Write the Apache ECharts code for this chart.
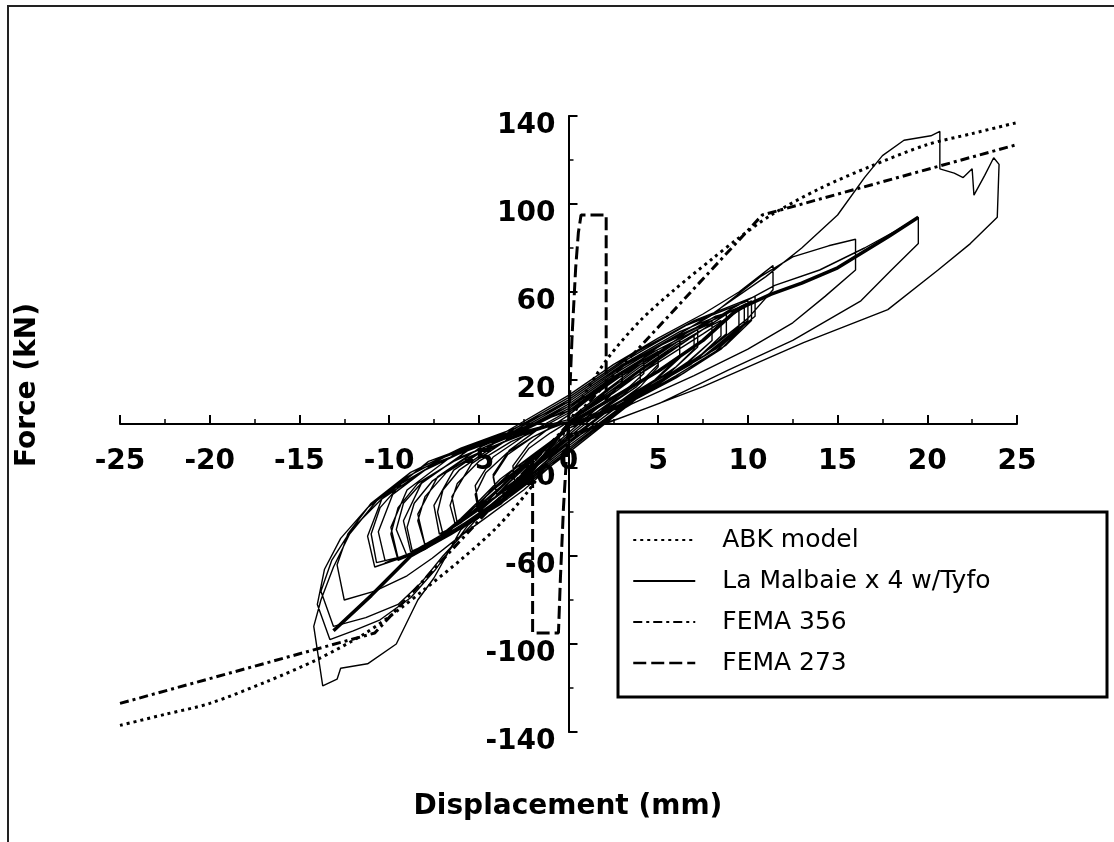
<!DOCTYPE html>
<html>
<head>
<meta charset="utf-8">
<title>Force vs Displacement</title>
<script src="https://cdn.jsdelivr.net/npm/echarts@6/dist/echarts.min.js"></script>
<style>
  html, body { margin: 0; padding: 0; background: #fff; }
  #chart { width: 1114px; height: 842px; }
</style>
</head>
<body>
<div id="chart"></div>
<script>
// axis ticks
const xTicks = [-25, -20, -15, -10, -5, 0, 5, 10, 15, 20, 25];
const yTicks = [-140, -100, -60, -20, 20, 60, 100, 140];

// ABK model (dotted)
const abkX = [-25, -22.5, -20, -16.8, -14, -11.3, -9.4, -8, -5.9, -4, -2.2, -1, 0, 1, 2.2, 4, 5.9, 8, 9.4, 11.3, 14, 16.8, 20, 22.5, 25];
const abkY = [-137, -132, -127, -117, -107, -95, -84, -75, -61, -47, -30, -15, 0, 15, 30, 47, 61, 75, 84, 95, 107, 117, 127, 132, 137];

// FEMA 356 (dash-dot)
const fema356X = [-25, -10.8, 0, 10.8, 25];
const fema356Y = [-127, -95, 0, 95, 127];

// FEMA 273 (dashed)
const fema273X = [-2.0, -2.0, -0.56, -0.45, -0.28, 0, 0.2, 0.4, 0.55, 0.7, 2.1, 2.1];
const fema273Y = [-15, -95, -95, -70, -38, 0, 40, 71, 87, 95, 95, 10];

// La Malbaie x 4 w/Tyfo - test cycles [disp, force]
// early cycles, pinched close to the origin
const early1 = [[0, 0], [1, 7], [2, 14], [3, 21], [2.9, 18], [2, 10], [1, 4], [0, -1], [-1, -9], [-2, -18], [-3, -26], [-3.1, -21], [-2.2, -11], [-1, -4], [0, 1]];
const early2 = [[0, 0], [1.2, 8], [2.5, 16], [4, 24], [4, 20], [3, 13], [1.5, 5], [0, -1], [-1.3, -11], [-2.7, -22], [-4, -32], [-4.2, -24], [-3.4, -14], [-2, -6], [-0.8, -1], [0, 1]];
const early3 = [[0, 1], [1.5, 10], [3, 19], [4.2, 26], [5, 30], [5, 26], [4, 17], [2.5, 8], [1, 2], [0, -2], [-1.2, -11], [-2.5, -20], [-3.5, -28], [-4.3, -35], [-5, -40], [-5.2, -32], [-4.6, -22], [-3.4, -13], [-2, -6], [-1, -2], [0, 1]];
const early4 = [[0, 1], [1.8, 12], [3.8, 23], [5.2, 31], [6.2, 36], [6.2, 30], [5, 21], [3, 11], [1.2, 3], [0, -1], [-1.5, -12], [-3, -23], [-4.5, -35], [-5.6, -42], [-6.3, -46], [-6.6, -37], [-6.2, -27], [-5, -17], [-3.2, -8], [-1.5, -2], [0, 1]];
const early5 = [[0, 1], [2, 12], [4, 24], [5.8, 34], [7, 40], [7, 34], [6, 26], [4, 15], [2, 6], [0, -2], [-1.6, -12], [-3.1, -21], [-4.3, -30], [-5.3, -40], [-6, -45], [-7, -50], [-7.3, -40], [-7, -30], [-6.1, -21], [-4.5, -12], [-2.8, -5], [-1.2, -1], [0, 1]];
const early6 = [[0, 1], [2, 14], [4, 26], [6, 37], [7.2, 43], [8, 46], [8, 38], [6.8, 29], [4.6, 17], [2.2, 6], [0, -2], [-1.8, -15], [-3.6, -27], [-5, -38], [-6.4, -47], [-8, -55], [-8.4, -44], [-8, -33], [-6.8, -22], [-4.8, -12], [-2.6, -5], [-1, -1], [0, 1]];
const early7 = [[0, 1], [2, 13], [4, 25], [6, 36], [7.5, 43], [8.5, 47], [8.5, 40], [7.2, 30], [5, 18], [2.5, 7], [0, -2], [-2, -14], [-3.8, -25], [-5, -35], [-6, -43], [-7.2, -51], [-8.7, -58], [-9, -47], [-8.6, -36], [-7.6, -26], [-5.8, -16], [-3.6, -8], [-1.6, -2], [0, 1]];
const early8 = [[0, 2], [2.2, 16], [4.5, 30], [6.5, 41], [8.2, 49], [9.5, 52], [9.5, 43], [8.2, 33], [6, 22], [3.4, 10], [0.8, 1], [0, -2], [-2, -16], [-4, -30], [-5.8, -43], [-7.2, -52], [-9, -60], [-9.6, -48], [-9.2, -36], [-8, -25], [-6, -15], [-3.6, -7], [-1.4, -1], [0, 1]];
const early9 = [[0, 1], [2.5, 15], [5, 28], [7.5, 41], [9, 49], [9.8, 53], [9.8, 45], [8.5, 34], [6, 21], [3, 8], [0, -2], [-2, -15], [-4, -28], [-5.5, -40], [-6.8, -50], [-8, -57], [-9.5, -62], [-9.9, -50], [-9.5, -38], [-8.4, -27], [-6.4, -17], [-4, -8], [-1.8, -2], [0, 1]];
const early10 = [[0, 1], [2.5, 14], [5, 29], [7.5, 43], [9, 51], [10.2, 56], [10.2, 47], [8.8, 36], [6.4, 23], [3.2, 9], [0, -2], [-2.2, -17], [-4.2, -30], [-5.8, -42], [-7.2, -52], [-8.6, -59], [-10.7, -63], [-11, -50], [-10.5, -38], [-9.3, -27], [-7.2, -17], [-4.6, -9], [-2, -3], [0, 1]];

// later cycles, wider at the origin
const cycle1 = [[0, 4], [1, 11], [2, 18], [3, 24], [3, 19], [2, 10], [1, 3], [0, -4], [-1, -11], [-2, -19], [-3, -26], [-3.1, -19], [-2.2, -9], [-1.1, -2], [0, 4]];
const cycle2 = [[0, 4], [1.4, 13], [2.8, 21], [4.2, 29], [4.2, 23], [3, 14], [1.5, 5], [0, -5], [-1.3, -14], [-2.7, -24], [-4, -32], [-4.2, -23], [-3.3, -12], [-1.8, -3], [0, 5]];
const cycle3 = [[0, 5], [1.6, 15], [3.3, 25], [5, 33], [5, 27], [3.8, 17], [2, 7], [0, -6], [-1.6, -17], [-3.3, -29], [-5, -38], [-5.2, -28], [-4.2, -15], [-2.4, -5], [0, 6]];
const cycle4 = [[0, 6], [2, 18], [4.2, 29], [6.2, 38], [6.2, 31], [4.8, 20], [2.6, 9], [0, -7], [-2, -20], [-4.2, -34], [-6.2, -45], [-6.5, -33], [-5.4, -18], [-3.2, -6], [0, 7]];
const cycle5 = [[0, 7], [2.4, 21], [4.8, 33], [7.2, 43], [7.2, 35], [5.6, 23], [3, 11], [0, -8], [-2.4, -23], [-4.8, -38], [-6.2, -46], [-7.2, -50], [-7.5, -37], [-6.4, -21], [-4, -8], [-1.8, 0], [0, 8]];
const cycle6 = [[0, 8], [2.6, 23], [5.2, 36], [8, 47], [8, 38], [6.2, 25], [3.4, 12], [0, -9], [-2.6, -26], [-5.2, -42], [-6.8, -50], [-8, -55], [-8.4, -41], [-7.3, -24], [-4.8, -10], [-2.2, -1], [0, 9]];
const cycle7 = [[0, 9], [2.8, 25], [5.8, 39], [8.8, 50], [8.8, 41], [6.8, 27], [3.8, 13], [0, -10], [-2.8, -28], [-5.8, -45], [-7.4, -53], [-8.8, -58], [-9.2, -44], [-8.2, -27], [-5.6, -12], [-2.6, -2], [0, 10]];
const cycle8 = [[0, 10], [3, 27], [6.2, 42], [9.5, 53], [9.5, 44], [7.4, 30], [4.2, 15], [0, -11], [-3, -30], [-6, -47], [-8, -56], [-9.5, -61], [-9.9, -47], [-9, -30], [-6.4, -14], [-3, -3], [0, 11]];
const cycle9 = [[0, 11], [3.2, 29], [6.6, 45], [10, 56], [10, 47], [7.8, 32], [4.4, 16], [0, -12], [-3.2, -32], [-6.4, -49], [-8.6, -58], [-10.2, -63], [-10.6, -49], [-9.8, -32], [-7.2, -16], [-3.4, -4], [0, 12]];
const cycle10 = [[0, 12], [3.4, 31], [7, 47], [10.4, 58], [10.4, 49], [8.2, 34], [4.8, 18], [0, -13], [-3.4, -34], [-6.8, -51], [-9, -60], [-10.8, -65], [-11.2, -51], [-10.4, -34], [-7.8, -17], [-3.8, -5], [0, 13]];
const cycle11 = [[0, 13], [2.5, 27], [5, 39], [7.5, 50], [9.5, 60], [11.4, 72], [11.4, 61], [10, 48], [8, 35], [5.5, 21], [2.8, 6], [0, -12], [-2.5, -30], [-4.5, -42], [-6.2, -52], [-7.6, -61], [-9, -69], [-10.8, -76], [-12.5, -80], [-12.9, -64], [-12.3, -50], [-11, -36], [-8.8, -22], [-6, -11], [-3, -2], [0, 10]];
const cycle12 = [[0, 10], [2.5, 24], [5.1, 36], [7.9, 49], [10.7, 67], [12.5, 76], [14.5, 81], [16, 84], [16, 70], [14.3, 58], [12.5, 46], [10, 34], [7, 22], [3.5, 9], [0, -8], [-2.8, -28], [-5.2, -44], [-7, -60], [-8.2, -72], [-9.5, -82], [-11.3, -88], [-13.1, -92], [-13.8, -76], [-13.2, -62], [-12.1, -48], [-10.4, -34], [-8, -21], [-5.2, -10], [-2.5, -2], [0, 8]];
const cycle13 = [[0, 8], [3, 22], [6, 37], [9, 52], [11.5, 63], [14, 70], [16.5, 80], [18.3, 88], [19.5, 94], [19.5, 82], [18, 70], [16.3, 56], [12.5, 38], [8.9, 24.5], [5.1, 9.5], [2, 0], [0, -6], [-3, -28], [-5.6, -46], [-7.4, -66], [-8.8, -79], [-10.5, -89], [-12, -94], [-13.3, -98], [-14, -82], [-13.6, -66], [-12.7, -52], [-11.2, -38], [-9, -24], [-6.2, -12], [-3, -3], [0, 6]];
const cycle14 = [[0, 6], [2.5, 20], [5, 35], [8, 50], [11, 67], [13, 80], [15, 95], [16.5, 112], [17.5, 122], [18.7, 129], [20.2, 131], [20.7, 133], [20.7, 116], [21.5, 114], [22, 112], [22.5, 116], [22.6, 104], [23.2, 113], [23.7, 121], [24, 118], [23.9, 94], [22.4, 82], [20.6, 70], [17.8, 52], [13.1, 37], [7.5, 17], [3, 3], [0, -5], [-3.2, -29], [-6, -48], [-7.5, -70], [-8.4, -80], [-9.6, -100], [-11.2, -109], [-12.7, -111], [-12.9, -116], [-13.7, -119], [-14.2, -92], [-13.8, -80], [-13.1, -65], [-12.2, -50], [-10.7, -35], [-8.4, -21], [-5.6, -12], [-2.8, -4], [0, 2]];

// heavy backbone traced through the repeated cycles
const backboneX = [-13.1, -11, -8.8, -6.6, -5.6, -3.8, -1.9, 0, 2.5, 5, 7.5, 9.4, 11.3, 13, 15, 17.8, 19.5];
const backboneY = [-94, -78, -60, -50, -45, -36, -20, 0, 12, 24, 38, 52, 59, 64, 71, 85, 94];

const zip = (xs, ys) => xs.map((x, i) => [x, ys[i]]);
const hysteresis = [].concat(
  early1, early2, early3, early4, early5, early6, early7, early8, early9, early10,
  cycle1, cycle2, cycle3, cycle4, cycle5, cycle6, cycle7,
  cycle8, cycle9, cycle10, cycle11, cycle12, cycle13, cycle14
);

const chart = echarts.init(document.getElementById('chart'), null, { renderer: 'canvas' });

const tickFont = { fontFamily: 'DejaVu Sans', fontWeight: 'bold', fontSize: 28, color: '#000' };

// grid is 897 x 616 px; axes are pushed onto the origin with offset
const option = {
  animation: false,
  backgroundColor: '#fff',
  grid: { left: 120, right: 97, top: 116, bottom: 110 },
  xAxis: {
    type: 'value',
    min: xTicks[0],
    max: xTicks[xTicks.length - 1],
    interval: xTicks[1] - xTicks[0],
    offset: -308,
    axisLine: { onZero: false, lineStyle: { color: '#000', width: 2 } },
    axisTick: { inside: true, length: 9, lineStyle: { color: '#000', width: 2 } },
    minorTick: { show: true, splitNumber: 2, length: 5, lineStyle: { color: '#000', width: 1.5 } },
    splitLine: { show: false },
    axisLabel: Object.assign({ margin: 24, showMinLabel: true, showMaxLabel: true }, tickFont)
  },
  yAxis: {
    type: 'value',
    min: yTicks[0],
    max: yTicks[yTicks.length - 1],
    interval: yTicks[1] - yTicks[0],
    offset: -448.5,
    axisLine: { onZero: false, lineStyle: { color: '#000', width: 2 } },
    axisTick: { inside: true, length: 9, lineStyle: { color: '#000', width: 2 } },
    minorTick: { show: true, splitNumber: 2, length: 5, lineStyle: { color: '#000', width: 1.5 } },
    splitLine: { show: false },
    axisLabel: Object.assign({ margin: 13, verticalAlign: 'top', lineHeight: 20, showMinLabel: true, showMaxLabel: true }, tickFont)
  },
  legend: {
    orient: 'vertical',
    left: 632,
    top: 527,
    padding: 0,
    itemWidth: 62,
    itemHeight: 14,
    itemGap: 15,
    itemStyle: { opacity: 0 },
    textStyle: { fontFamily: 'DejaVu Sans', fontSize: 25, lineHeight: 26, color: '#000', padding: [0, 0, 0, 22] },
    data: [
      { name: 'ABK model', lineStyle: { width: 2 } },
      { name: 'La Malbaie x 4 w/Tyfo', lineStyle: { width: 2 } },
      { name: 'FEMA 356', lineStyle: { width: 2 } },
      { name: 'FEMA 273', lineStyle: { width: 2.5 } }
    ],
    z: 10
  },
  graphic: [
    {
      type: 'rect', z: 0, silent: true,
      shape: { x: 8, y: 6, width: 1200, height: 900 },
      style: { fill: 'none', stroke: '#222', lineWidth: 2 }
    },
    {
      type: 'rect', z: 5, silent: true,
      shape: { x: 618, y: 512, width: 489, height: 185 },
      style: { fill: '#fff', stroke: '#000', lineWidth: 3 }
    },
    {
      type: 'text', z: 5, silent: true,
      x: 568, y: 807,
      style: { text: 'Displacement (mm)', fontFamily: 'DejaVu Sans', fontWeight: 'bold', fontSize: 28, fill: '#000', align: 'center', verticalAlign: 'middle' }
    },
    {
      type: 'text', z: 5, silent: true,
      x: 28, y: 385, rotation: Math.PI / 2,
      style: { text: 'Force (kN)', fontFamily: 'DejaVu Sans', fontWeight: 'bold', fontSize: 28, fill: '#000', align: 'center', verticalAlign: 'middle' }
    }
  ],
  series: [
    {
      name: 'La Malbaie x 4 w/Tyfo',
      type: 'line',
      data: hysteresis,
      symbol: 'none',
      lineStyle: { color: '#000', width: 1.4 },
      itemStyle: { color: '#000' },
      z: 2
    },
    {
      name: 'backbone',
      type: 'line',
      data: zip(backboneX, backboneY),
      symbol: 'none',
      lineStyle: { color: '#000', width: 3.5 },
      z: 2
    },
    {
      name: 'ABK model',
      type: 'line',
      data: zip(abkX, abkY),
      symbol: 'none',
      smooth: 0.3,
      lineStyle: { color: '#000', width: 3, type: [3, 4] },
      itemStyle: { color: '#000' },
      z: 3
    },
    {
      name: 'FEMA 356',
      type: 'line',
      data: zip(fema356X, fema356Y),
      symbol: 'none',
      lineStyle: { color: '#000', width: 3, type: [9, 4, 3, 4] },
      itemStyle: { color: '#000' },
      z: 3
    },
    {
      name: 'FEMA 273',
      type: 'line',
      data: zip(fema273X, fema273Y),
      symbol: 'none',
      lineStyle: { color: '#000', width: 3, type: [13, 5] },
      itemStyle: { color: '#000' },
      z: 3
    }
  ]
};

chart.setOption(option);
</script>
</body>
</html>
